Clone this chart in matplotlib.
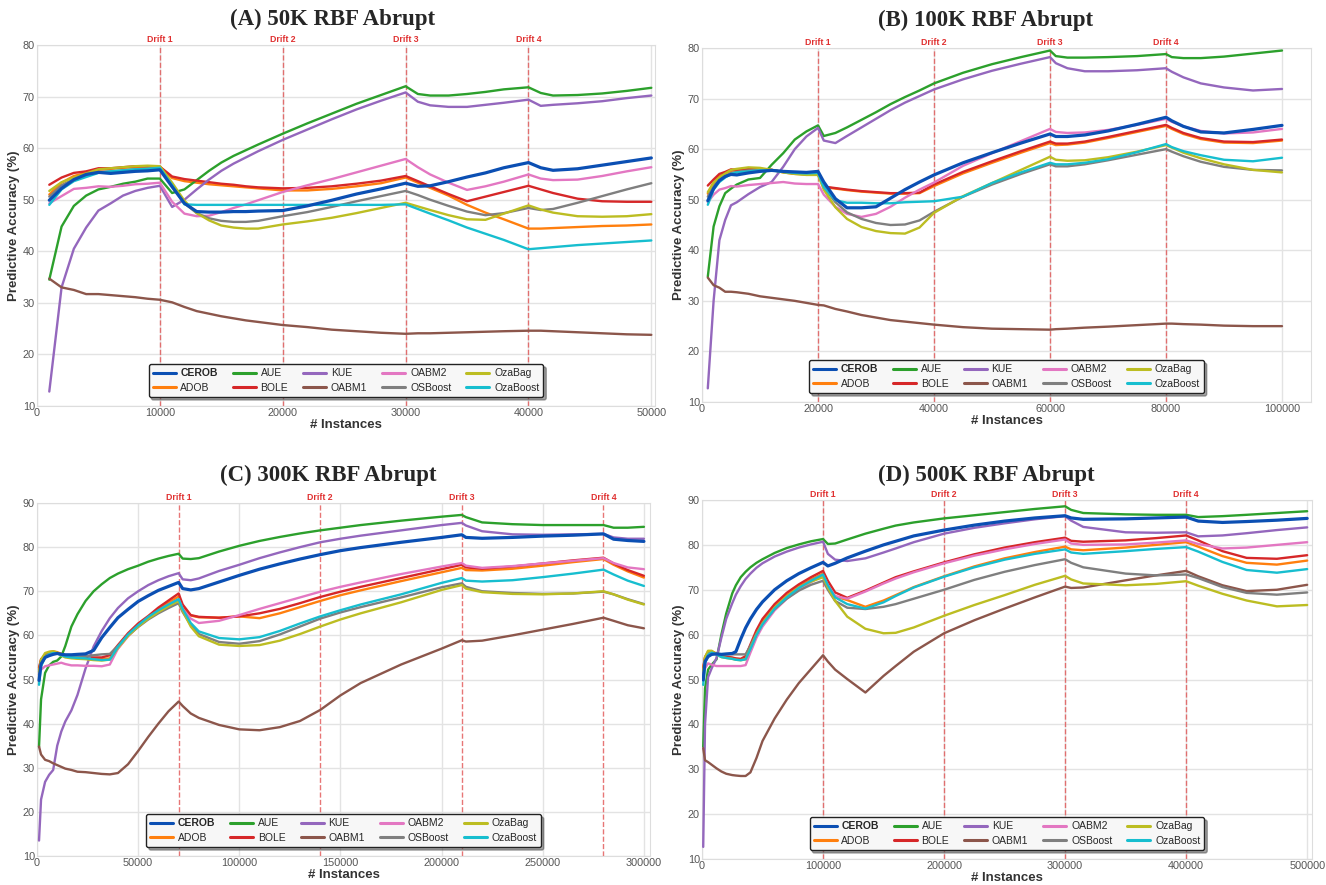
import matplotlib
matplotlib.use('Agg')
import matplotlib.pyplot as plt
import matplotlib.transforms as mtransforms
import seaborn as sns

sns.set_style('whitegrid')
plt.rcParams['font.family'] = ['Liberation Sans', 'DejaVu Sans']

W, H = 1326, 885

methods = ['CEROB', 'ADOB', 'AUE', 'BOLE', 'KUE', 'OABM1', 'OABM2', 'OSBoost', 'OzaBag', 'OzaBoost']
colors = ['#0b4fb3', '#ff7f0e', '#2ca02c', '#d62728', '#9467bd',
          '#8c564b', '#e377c2', '#7f7f7f', '#bcbd22', '#17becf']

# ---------------- (A) 50K ----------------
xa = [1000, 2000, 3000, 4000, 5000, 6000, 7000, 8000, 9000, 10000, 11000, 12000, 13000, 14000,
      15000, 16000, 17000, 18000, 20000, 22000, 24000, 26000, 28000, 30000, 31000, 32000, 33500,
      35000, 36500, 38000, 40000, 41000, 42000, 44000, 46000, 48000, 50000]
a_cerob = [49.9, 52.2, 53.9, 54.9, 55.3, 55.1, 55.3, 55.5, 55.6, 55.8, 52.5, 49.3, 47.7, 47.6, 47.6, 47.7, 47.7, 47.8,
           47.9, 48.8, 49.9, 51.1, 52.1, 53.2, 52.6, 52.7, 53.5, 54.4, 55.2, 56.2, 57.2, 56.2, 55.7, 56.0, 56.7, 57.4, 58.1]
a_adob = [51.0, 53.3, 54.6, 55.2, 55.8, 56.0, 56.2, 56.3, 56.4, 56.4, 54.2, 53.6, 53.3, 53.0, 52.8, 52.6, 52.4, 52.2,
          51.8, 51.8, 52.1, 52.6, 53.2, 54.3, 53.3, 52.3, 50.8, 49.0, 47.5, 46.2, 44.4, 44.4, 44.5, 44.7, 44.9, 45.0, 45.2]
a_aue = [34.5, 44.8, 48.8, 50.8, 52.0, 52.5, 53.1, 53.5, 54.1, 54.1, 51.3, 52.0, 53.8, 55.6, 57.2, 58.5, 59.6, 60.7,
         62.8, 64.8, 66.7, 68.6, 70.3, 72.0, 70.5, 70.2, 70.2, 70.5, 70.9, 71.4, 71.8, 70.7, 70.2, 70.3, 70.6, 71.1, 71.7]
a_bole = [52.9, 54.3, 55.2, 55.5, 56.1, 56.1, 56.3, 56.5, 56.5, 56.4, 54.5, 54.0, 53.7, 53.4, 53.1, 52.9, 52.6, 52.4,
          52.2, 52.3, 52.6, 53.1, 53.7, 54.6, 53.6, 52.6, 51.1, 49.7, 50.6, 51.5, 52.7, 52.0, 51.3, 50.2, 49.7, 49.6, 49.6]
a_kue = [12.8, 33.0, 40.5, 44.6, 47.9, 49.3, 50.8, 51.7, 52.3, 52.7, 48.6, 50.0, 52.0, 53.9, 55.6, 57.0, 58.2, 59.4,
         61.6, 63.6, 65.6, 67.5, 69.2, 70.8, 69.0, 68.3, 68.0, 68.0, 68.4, 68.8, 69.4, 68.2, 68.4, 68.7, 69.1, 69.7, 70.2]
a_oabm1 = [34.7, 33.0, 32.5, 31.7, 31.7, 31.5, 31.3, 31.1, 30.8, 30.6, 30.1, 29.2, 28.4, 27.9, 27.4, 27.0, 26.6, 26.3,
           25.7, 25.3, 24.8, 24.5, 24.2, 24.0, 24.1, 24.1, 24.2, 24.3, 24.4, 24.5, 24.6, 24.6, 24.5, 24.3, 24.1, 23.9, 23.8]
a_oabm2 = [49.3, 50.7, 52.1, 52.3, 52.6, 52.5, 52.7, 53.0, 53.1, 53.3, 49.6, 47.3, 46.8, 46.9, 47.6, 48.4, 49.1, 49.9,
           51.5, 52.8, 54.0, 55.3, 56.6, 57.9, 56.3, 54.9, 53.3, 51.9, 52.6, 53.5, 54.9, 54.1, 53.8, 53.9, 54.6, 55.5, 56.3]
a_osboost = [50.6, 52.8, 54.0, 54.7, 55.4, 55.5, 55.7, 55.9, 56.0, 56.1, 52.8, 49.3, 47.4, 46.4, 45.9, 45.7, 45.7, 45.9,
             46.8, 47.6, 48.6, 49.7, 50.7, 51.7, 50.9, 50.0, 48.8, 47.7, 47.0, 47.4, 48.4, 48.0, 48.2, 49.4, 50.7, 52.0, 53.2]
a_ozabag = [51.7, 53.4, 54.3, 55.1, 55.9, 56.1, 56.3, 56.5, 56.6, 56.5, 53.3, 49.8, 47.4, 46.0, 45.0, 44.6, 44.4, 44.4,
            45.2, 45.8, 46.5, 47.4, 48.4, 49.4, 48.7, 48.0, 47.0, 46.2, 46.1, 47.3, 48.9, 48.1, 47.5, 46.8, 46.7, 46.8, 47.2]
a_ozaboost = [49.0, 52.0, 53.6, 54.4, 55.2, 55.5, 55.7, 55.9, 56.0, 56.2, 52.8, 49.1, 49.0, 49.0, 49.0, 49.0, 49.0, 49.0,
              49.0, 49.0, 49.0, 49.0, 49.0, 49.1, 48.2, 47.3, 46.0, 44.6, 43.4, 42.2, 40.4, 40.6, 40.8, 41.2, 41.5, 41.8, 42.1]

# ---------------- (B) 100K ----------------
xb = [1000, 2000, 3000, 4000, 5000, 6000, 8000, 10000, 12000, 14000, 16000, 18000, 20000,
      21000, 23000, 25000, 27500, 30000, 32500, 35000, 37500, 40000,
      45000, 50000, 55000, 60000, 61000, 63000, 66000, 70000, 75000, 80000,
      81000, 83000, 86000, 90000, 95000, 100000]
b_cerob = [49.8, 52.2, 53.8, 54.6, 55.0, 54.9, 55.3, 55.6, 55.8, 55.6, 55.5, 55.4, 55.6,
           53.5, 50.2, 48.4, 48.4, 48.6, 50.3, 52.0, 53.5, 54.9,
           57.3, 59.3, 61.2, 63.0, 62.5, 62.5, 62.8, 63.6, 64.9, 66.3,
           65.6, 64.5, 63.4, 63.2, 63.9, 64.7]
b_adob = [51.2, 53.4, 54.6, 55.2, 55.7, 55.9, 56.1, 56.1, 55.9, 55.4, 55.1, 55.0, 55.0,
          52.5, 52.2, 51.9, 51.6, 51.4, 51.2, 51.2, 51.3, 52.7,
          55.2, 57.3, 59.3, 61.2, 60.8, 60.9, 61.3, 62.2, 63.4, 64.6,
          64.0, 63.0, 62.0, 61.3, 61.2, 61.7]
b_aue = [34.8, 44.7, 48.7, 51.3, 52.2, 53.0, 54.0, 54.3, 56.9, 59.2, 61.9, 63.5, 64.7,
         62.6, 63.2, 64.3, 65.8, 67.3, 68.9, 70.3, 71.6, 73.0,
         75.1, 76.8, 78.2, 79.5, 78.4, 78.1, 78.1, 78.2, 78.4, 78.8,
         78.2, 78.0, 78.0, 78.3, 78.9, 79.5]
b_bole = [52.8, 54.0, 55.1, 55.5, 56.0, 55.9, 56.1, 56.0, 55.9, 55.5, 55.2, 55.1, 55.2,
          52.6, 52.3, 52.0, 51.7, 51.5, 51.3, 51.3, 51.4, 53.0,
          55.5, 57.6, 59.6, 61.5, 61.1, 61.1, 61.5, 62.4, 63.6, 64.8,
          64.2, 63.2, 62.2, 61.5, 61.4, 61.9]
b_kue = [12.7, 30.0, 42.0, 46.0, 48.9, 49.5, 51.1, 52.5, 53.5, 56.5, 60.0, 62.5, 64.2,
         61.7, 61.2, 62.6, 64.3, 66.0, 67.7, 69.2, 70.5, 71.8,
         73.8, 75.5, 76.9, 78.2, 77.0, 76.0, 75.4, 75.4, 75.6, 76.0,
         75.3, 74.2, 73.0, 72.2, 71.6, 71.9]
b_oabm1 = [34.6, 33.1, 32.6, 31.8, 31.8, 31.7, 31.4, 30.9, 30.6, 30.3, 30.0, 29.6, 29.2,
           29.1, 28.4, 27.9, 27.2, 26.7, 26.2, 25.9, 25.6, 25.3,
           24.8, 24.5, 24.4, 24.3, 24.4, 24.5, 24.7, 24.9, 25.2, 25.5,
           25.5, 25.4, 25.3, 25.1, 25.0, 25.0]
b_oabm2 = [49.5, 51.0, 52.0, 52.3, 52.7, 52.6, 52.9, 53.1, 53.3, 53.5, 53.2, 53.1, 53.1,
           51.0, 48.6, 47.2, 46.6, 47.2, 48.6, 50.4, 52.0, 53.4,
           56.7, 59.2, 61.6, 64.0, 63.4, 63.2, 63.3, 63.8, 64.8, 66.0,
           65.4, 64.5, 63.6, 63.1, 63.3, 64.0]
b_osboost = [50.6, 52.8, 54.0, 54.7, 55.3, 55.5, 55.8, 55.9, 55.9, 55.5, 55.2, 55.0, 55.1,
             52.5, 49.5, 47.5, 46.2, 45.4, 45.0, 45.1, 45.9, 47.6,
             50.6, 53.0, 55.1, 57.0, 56.6, 56.6, 57.0, 57.8, 58.9, 60.0,
             59.5, 58.6, 57.5, 56.5, 55.9, 55.8]
b_ozabag = [51.5, 53.4, 54.4, 55.2, 55.9, 56.1, 56.4, 56.3, 55.9, 55.4, 55.1, 54.9, 54.9,
            52.0, 48.5, 46.2, 44.6, 43.8, 43.4, 43.3, 44.5, 47.4,
            50.7, 53.3, 55.9, 58.5, 57.9, 57.7, 57.8, 58.4, 59.5, 60.8,
            60.3, 59.3, 58.2, 57.0, 55.9, 55.4]
b_ozaboost = [49.0, 52.0, 53.5, 54.4, 55.1, 55.4, 55.6, 55.8, 55.8, 55.5, 55.3, 55.2, 55.3,
              52.5, 49.9, 49.4, 49.4, 49.3, 49.3, 49.5, 49.6, 49.7,
              50.6, 53.3, 55.4, 57.3, 57.0, 57.0, 57.3, 58.0, 59.4, 61.0,
              60.4, 59.6, 58.8, 57.9, 57.6, 58.3]

# ---------------- (C) 300K ----------------
xc = [1000, 2000, 4000, 6000, 8000, 10000, 12000, 14000, 17000, 20000, 24000, 28000, 32000, 36000,
      40000, 45000, 50000, 55000, 60000, 65000, 70000,
      72000, 76000, 80000, 90000, 100000, 110000, 120000, 130000, 140000, 150000, 160000, 180000, 200000, 210000,
      212000, 220000, 235000, 250000, 265000, 280000,
      285000, 292000, 300000]
c_cerob = [49.8, 53.5, 55.0, 55.4, 55.7, 55.9, 55.7, 55.6, 55.6, 55.7, 55.8, 56.6, 59.5, 61.8,
           64.0, 65.9, 67.7, 69.0, 70.2, 71.1, 72.0,
           70.6, 70.3, 70.6, 72.1, 73.6, 75.0, 76.2, 77.3, 78.3, 79.2, 79.9, 81.1, 82.2, 82.8,
           82.2, 82.0, 82.2, 82.5, 82.7, 83.0,
           81.8, 81.5, 81.3]
c_adob = [52.3, 54.4, 55.7, 56.2, 56.4, 56.2, 55.8, 55.4, 55.0, 54.8, 54.7, 54.6, 54.6, 54.8,
          57.0, 59.9, 62.1, 64.0, 65.8, 67.4, 68.8,
          66.5, 64.5, 64.1, 64.0, 64.3, 63.9, 65.0, 66.4, 67.8, 69.1, 70.2, 72.3, 74.3, 75.3,
          74.8, 74.7, 75.1, 75.8, 76.6, 77.3,
          76.0, 74.5, 73.1]
c_aue = [34.7, 45.5, 51.5, 53.2, 54.0, 54.3, 55.2, 57.6, 62.0, 64.8, 67.8, 70.0, 71.6, 73.0,
         74.0, 75.0, 75.8, 76.7, 77.4, 78.0, 78.5,
         77.4, 77.3, 77.5, 79.0, 80.3, 81.4, 82.3, 83.1, 83.8, 84.4, 85.0, 86.0, 86.9, 87.3,
         86.8, 85.6, 85.2, 85.0, 85.0, 85.0,
         84.4, 84.4, 84.6]
c_bole = [52.7, 54.6, 55.5, 56.0, 56.1, 56.0, 55.8, 55.5, 55.2, 55.1, 55.1, 55.0, 55.0, 55.5,
          57.8, 60.5, 62.7, 64.4, 66.3, 67.9, 69.5,
          67.0, 64.6, 64.2, 64.0, 64.3, 65.0, 66.0, 67.3, 68.7, 69.9, 71.0, 73.0, 75.0, 76.0,
          75.4, 75.1, 75.6, 76.3, 77.0, 77.6,
          76.3, 74.8, 73.5]
c_kue = [13.5, 22.8, 26.8, 28.4, 29.5, 35.0, 38.2, 40.5, 43.0, 46.5, 52.5, 57.5, 61.0, 63.9,
         66.2, 68.4, 70.0, 71.4, 72.5, 73.4, 74.1,
         72.7, 72.5, 72.9, 74.6, 76.0, 77.5, 78.8, 80.0, 81.1, 81.9, 82.6, 83.8, 85.0, 85.5,
         84.9, 83.6, 82.9, 82.8, 82.9, 83.0,
         82.2, 81.9, 81.9]
c_oabm1 = [34.8, 33.0, 31.8, 31.5, 31.0, 30.6, 30.2, 29.8, 29.5, 29.1, 29.0, 28.8, 28.6, 28.5,
           28.8, 30.8, 33.8, 37.0, 40.0, 42.8, 45.0,
           44.0, 42.3, 41.3, 39.7, 38.7, 38.5, 39.2, 40.6, 43.1, 46.4, 49.2, 53.4, 57.0, 58.9,
           58.6, 58.8, 60.0, 61.3, 62.6, 64.0,
           63.3, 62.3, 61.6]
c_oabm2 = [51.5, 52.2, 53.0, 53.2, 53.4, 53.6, 53.8, 53.5, 53.2, 53.2, 53.1, 53.1, 53.0, 53.4,
           57.0, 59.8, 62.0, 63.9, 65.5, 66.9, 68.2,
           66.0, 63.8, 62.8, 63.3, 64.6, 66.0, 67.3, 68.6, 69.9, 71.0, 72.0, 73.9, 75.6, 76.4,
           75.8, 75.3, 75.7, 76.3, 76.9, 77.5,
           76.4, 75.4, 75.0]
c_osboost = [51.0, 53.8, 55.3, 55.9, 56.1, 56.0, 55.6, 55.3, 55.2, 55.2, 55.3, 55.5, 55.7, 55.8,
             57.6, 60.0, 61.9, 63.6, 65.0, 66.2, 67.3,
             65.3, 62.3, 60.3, 58.5, 58.1, 58.7, 60.2, 62.0, 63.8, 65.2, 66.4, 68.6, 70.9, 71.8,
             71.0, 70.0, 69.6, 69.4, 69.5, 69.9,
             69.3, 68.2, 67.1]
c_ozabag = [51.8, 54.5, 56.0, 56.3, 56.4, 56.1, 55.4, 55.0, 54.8, 54.7, 54.6, 54.4, 54.3, 54.5,
            57.2, 59.9, 62.0, 63.8, 65.3, 66.6, 67.8,
            65.6, 62.0, 59.8, 57.9, 57.6, 57.8, 58.8, 60.3, 62.0, 63.6, 65.0, 67.5, 70.3, 71.4,
            70.6, 69.8, 69.4, 69.3, 69.5, 70.0,
            69.3, 68.1, 67.0]
c_ozaboost = [48.8, 53.0, 55.0, 55.7, 56.0, 55.9, 55.5, 55.2, 55.0, 54.9, 54.8, 54.6, 54.4, 54.5,
              57.4, 60.2, 62.3, 64.2, 65.7, 67.0, 68.2,
              66.0, 62.8, 60.9, 59.4, 59.1, 59.6, 61.0, 62.7, 64.3, 65.7, 67.0, 69.3, 71.9, 73.0,
              72.4, 72.2, 72.5, 73.2, 74.0, 74.9,
              73.8, 72.4, 71.2]

# ---------------- (D) 500K ----------------
xd = [1000, 2500, 5000, 8000, 12000, 16000, 20000, 25000, 28000, 32000, 36000, 40000, 45000, 50000,
      60000, 70000, 80000, 90000, 100000,
      104000, 110000, 120000, 135000, 150000, 160000, 175000, 200000, 225000, 250000, 275000, 300000,
      305000, 315000, 350000, 375000, 400000,
      410000, 430000, 450000, 475000, 500000]
d_cerob = [49.9, 54.0, 55.1, 55.6, 55.7, 55.6, 55.7, 55.8, 56.2, 59.0, 61.5, 63.5, 65.6, 67.3,
           70.0, 72.0, 73.6, 74.9, 76.1,
           75.3, 75.9, 77.1, 78.6, 80.0, 80.8, 82.0, 83.3, 84.4, 85.3, 86.0, 86.5,
           86.0, 85.7, 85.8, 86.0, 86.2,
           85.3, 85.0, 85.2, 85.5, 85.9]
d_adob = [52.3, 54.8, 56.2, 56.3, 55.8, 55.2, 55.0, 54.8, 54.6, 54.5, 54.8, 57.0, 60.3, 62.8,
          66.2, 68.7, 70.7, 72.3, 73.6,
          71.0, 68.5, 67.7, 66.2, 67.6, 68.8, 70.6, 73.0, 75.2, 77.0, 78.4, 79.6,
          79.0, 78.8, 79.4, 80.0, 80.6,
          79.6, 77.5, 76.0, 75.6, 76.5]
d_aue = [35.0, 48.0, 52.2, 53.3, 54.5, 60.0, 64.7, 69.2, 71.0, 72.8, 74.0, 75.0, 76.0, 76.8,
         78.2, 79.3, 80.1, 80.8, 81.3,
         80.2, 80.3, 81.2, 82.5, 83.6, 84.3, 85.0, 85.9, 86.6, 87.3, 88.0, 88.6,
         87.8, 87.1, 86.8, 86.7, 86.7,
         86.2, 86.4, 86.7, 87.1, 87.5]
d_bole = [52.7, 55.0, 56.1, 56.0, 55.6, 55.3, 55.1, 54.9, 54.7, 54.6, 55.2, 57.8, 61.0, 63.5,
          66.8, 69.3, 71.2, 72.8, 74.2,
          72.0, 69.4, 68.2, 69.8, 71.6, 72.8, 74.1, 76.1, 77.9, 79.4, 80.6, 81.6,
          80.9, 80.7, 81.0, 81.5, 82.1,
          81.0, 78.6, 77.1, 76.9, 77.7]
d_kue = [12.7, 40.0, 50.5, 52.5, 54.8, 59.3, 63.5, 67.0, 68.9, 70.8, 72.4, 73.6, 74.9, 75.9,
         77.4, 78.5, 79.4, 80.1, 80.7,
         78.0, 76.7, 76.4, 77.0, 78.3, 79.2, 80.6, 82.5, 83.8, 84.8, 85.7, 86.4,
         85.4, 84.0, 82.8, 82.7, 82.8,
         81.9, 82.1, 82.6, 83.3, 83.9]
d_oabm1 = [34.7, 32.0, 31.6, 31.0, 30.2, 29.5, 29.0, 28.7, 28.6, 28.5, 28.5, 29.3, 32.5, 36.3,
           41.3, 45.5, 49.2, 52.3, 55.4,
           54.0, 52.2, 50.1, 47.1, 50.8, 53.0, 56.2, 60.3, 63.2, 65.8, 68.3, 70.7,
           70.4, 70.5, 72.1, 73.2, 74.2,
           73.0, 71.0, 69.7, 70.0, 71.1]
d_oabm2 = [51.5, 52.5, 53.6, 53.3, 53.0, 53.0, 53.0, 53.0, 53.0, 53.0, 53.2, 56.0, 59.3, 61.8,
           65.4, 68.0, 70.0, 71.7, 73.2,
           71.0, 68.6, 68.0, 69.6, 71.4, 72.5, 73.9, 75.9, 77.6, 79.0, 80.2, 81.2,
           80.3, 80.0, 80.1, 80.5, 81.0,
           80.2, 79.2, 79.4, 80.0, 80.6]
d_osboost = [51.0, 54.5, 55.9, 56.0, 55.8, 55.6, 55.6, 55.6, 55.6, 55.6, 55.6, 57.5, 60.2, 62.5,
             65.7, 68.0, 69.8, 71.1, 72.0,
             70.0, 67.5, 66.0, 65.7, 66.2, 66.8, 68.0, 70.0, 72.2, 74.0, 75.5, 76.8,
             76.0, 75.0, 73.6, 73.2, 73.4,
             72.6, 70.6, 69.3, 68.9, 69.4]
d_ozabag = [52.0, 55.0, 56.4, 56.4, 55.6, 55.0, 54.8, 54.6, 54.4, 54.3, 54.5, 57.0, 60.1, 62.5,
            66.0, 68.5, 70.5, 71.8, 72.8,
            70.5, 67.5, 64.0, 61.3, 60.3, 60.4, 61.6, 64.2, 66.6, 68.8, 71.1, 73.1,
            72.3, 71.4, 71.0, 71.3, 71.9,
            70.9, 69.1, 67.6, 66.3, 66.6]
d_ozaboost = [48.8, 53.5, 55.5, 56.0, 55.6, 55.0, 54.8, 54.6, 54.4, 54.3, 54.5, 56.8, 59.9, 62.3,
              65.8, 68.3, 70.4, 72.0, 73.4,
              71.0, 68.3, 66.8, 65.8, 67.2, 68.6, 70.5, 72.9, 75.0, 76.7, 78.0, 79.0,
              78.3, 78.0, 78.6, 79.1, 79.5,
              78.5, 76.2, 74.4, 73.8, 74.6]

# panel layout in pixels: left, top, right, bottom of the axes; title centre
panels = [
    dict(title='(A) 50K RBF Abrupt', x=xa,
         ys=[a_cerob, a_adob, a_aue, a_bole, a_kue, a_oabm1, a_oabm2, a_osboost, a_ozabag, a_ozaboost],
         drifts=[10000, 20000, 30000, 40000], xlim=(0, 50300), ylim=(10, 80),
         xticks=range(0, 50001, 10000), box=(37, 45, 655, 406), tpos=(333, 19)),
    dict(title='(B) 100K RBF Abrupt', x=xb,
         ys=[b_cerob, b_adob, b_aue, b_bole, b_kue, b_oabm1, b_oabm2, b_osboost, b_ozabag, b_ozaboost],
         drifts=[20000, 40000, 60000, 80000], xlim=(0, 105000), ylim=(10, 80),
         xticks=range(0, 100001, 20000), box=(702, 48, 1311, 402), tpos=(986, 20)),
    dict(title='(C) 300K RBF Abrupt', x=xc,
         ys=[c_cerob, c_adob, c_aue, c_bole, c_kue, c_oabm1, c_oabm2, c_osboost, c_ozabag, c_ozaboost],
         drifts=[70000, 140000, 210000, 280000], xlim=(0, 303000), ylim=(10, 90),
         xticks=range(0, 300001, 50000), box=(37, 503, 650, 856), tpos=(328, 475)),
    dict(title='(D) 500K RBF Abrupt', x=xd,
         ys=[d_cerob, d_adob, d_aue, d_bole, d_kue, d_oabm1, d_oabm2, d_osboost, d_ozabag, d_ozaboost],
         drifts=[100000, 200000, 300000, 400000], xlim=(0, 504000), ylim=(10, 90),
         xticks=range(0, 500001, 100000), box=(702, 500, 1312, 859), tpos=(986, 475)),
]

fig = plt.figure(figsize=(W / 100, H / 100), dpi=100)

for p in panels:
    l, t, r, b = p['box']
    ax = fig.add_axes([l / W, 1 - b / H, (r - l) / W, (b - t) / H])
    for name, col, y in zip(methods, colors, p['ys']):
        lw = 2.3 if name == 'CEROB' else 1.7
        z = 4 if name == 'CEROB' else 3
        ax.plot(p['x'], y, color=col, lw=lw, label=name, zorder=z)

    trans = mtransforms.blended_transform_factory(ax.transData, ax.transAxes)
    for i, d in enumerate(p['drifts']):
        ax.axvline(d, color='#e04848', ls='--', lw=1.0, alpha=0.75, zorder=2)
        ax.text(d, 1.004, 'Drift %d' % (i + 1), transform=trans, ha='center', va='bottom',
                fontsize=6.3, color='#e03030', fontweight='bold')

    ax.set_xlim(*p['xlim'])
    ax.set_ylim(*p['ylim'])
    ax.set_xticks(list(p['xticks']))
    ax.set_yticks(range(p['ylim'][0], p['ylim'][1] + 1, 10))
    ax.tick_params(labelsize=7.8, labelcolor='#555555', pad=1.5, length=0)
    ax.grid(True, color='#e3e3e3', lw=1)
    for s in ax.spines.values():
        s.set_color('#dddddd')

    ax.set_xlabel('# Instances', fontsize=9.5, fontweight='bold', color='#333333')
    ax.set_ylabel('Predictive Accuracy (%)', fontsize=9.5, fontweight='bold', color='#333333')
    ax.xaxis.set_label_coords(0.5, -(13 / (b - t)))
    ax.yaxis.set_label_coords(-(17 / (r - l)), 0.5)

    leg = ax.legend(loc='lower center', bbox_to_anchor=(0.5, 0.01), ncol=5, fontsize=7.5,
                    frameon=True, fancybox=True, shadow=True, framealpha=1,
                    handlelength=2.2, handletextpad=0.45, columnspacing=1.45,
                    borderpad=0.4, labelspacing=0.45)
    leg.get_frame().set_edgecolor('#222222')
    leg.get_frame().set_facecolor('#f7f7f7')
    leg.get_texts()[0].set_fontweight('bold')
    for h in leg.get_lines():
        h.set_linewidth(2.2)

    fig.text(p['tpos'][0] / W, 1 - p['tpos'][1] / H, p['title'], ha='center', va='center',
             fontsize=16.5, fontweight='bold', family=['Liberation Serif', 'DejaVu Serif'])

fig.savefig('out.png', dpi=100, facecolor='white')
